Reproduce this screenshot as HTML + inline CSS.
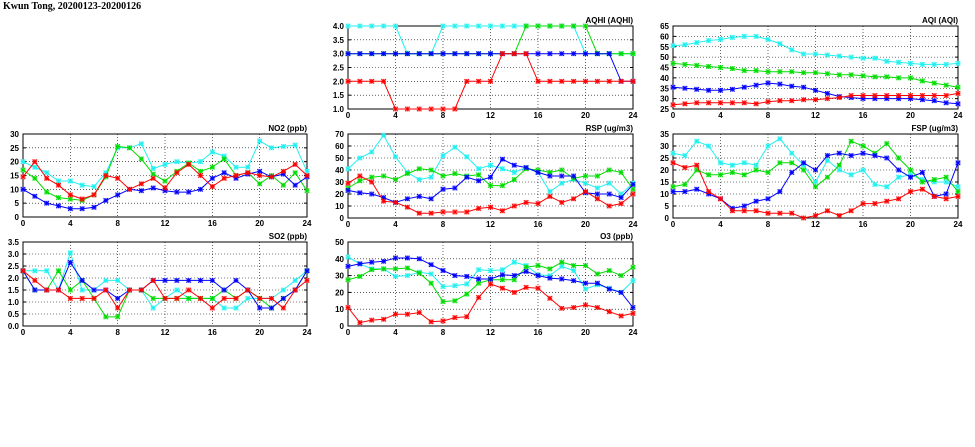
<!DOCTYPE html>
<html><head><meta charset="utf-8"><style>
html,body{margin:0;padding:0;background:#fff;width:975px;height:447px;overflow:hidden}
svg{display:block}
text{font-family:"Liberation Sans",sans-serif;font-weight:bold;font-size:8px;fill:#000}
</style></head><body>
<svg id="s" width="975" height="447" xmlns="http://www.w3.org/2000/svg">
<text x="3" y="9" style="font-family:'Liberation Serif',serif;font-size:10px">Kwun Tong, 20200123-20200126</text>
</svg>
<script>
const S=document.getElementById('s');const NS='http://www.w3.org/2000/svg';
function el(t,a,txt){const e=document.createElementNS(NS,t);for(const k in a)e.setAttribute(k,a[k]);if(txt!=null)e.textContent=txt;S.appendChild(e);return e;}
const C={c:'#20f0f0',g:'#00dd00',b:'#0000ff',r:'#ff0000'};
function panel(p){
 const {x0,x1,y0,y1,min,max,step,dec,title,d}=p;
 const X=h=>x0+(x1-x0)*h/24, Y=v=>y1-(y1-y0)*(v-min)/(max-min);
 for(let v=min;v<=max+1e-9;v+=step){const y=Y(v);
  if(v>min+1e-9&&v<max-1e-9)el('line',{x1:x0,x2:x1,y1:y,y2:y,stroke:'#000','stroke-width':0.6,'stroke-dasharray':'1,2'});
  el('line',{x1:x0,x2:x0+3,y1:y,y2:y,stroke:'#000'});el('line',{x1:x1-3,x2:x1,y1:y,y2:y,stroke:'#000'});
  el('text',{x:x0-4,y:y+3,'text-anchor':'end'},v.toFixed(dec));}
 for(let h=0;h<=24;h+=4){const x=X(h);
  if(h>0&&h<24)el('line',{x1:x,x2:x,y1:y0,y2:y1,stroke:'#000','stroke-width':0.6,'stroke-dasharray':'1,2'});
  el('text',{x:x,y:y1+9,'text-anchor':'middle'},h);}
 el('rect',{x:x0,y:y0,width:x1-x0,height:y1-y0,fill:'none',stroke:'#000','stroke-width':1});
 el('text',{x:x1,y:y0-3,'text-anchor':'end'},title);
 for(const k of ['c','g','b','r']){const a=d[k];const pts=a.map((v,i)=>X(i).toFixed(1)+','+Y(v).toFixed(1)).join(' ');
  el('polyline',{points:pts,fill:'none',stroke:C[k],'stroke-width':1});
  a.forEach((v,i)=>{const x=X(i),y=Y(v),r=2.2;
   el('path',{d:`M${x-r},${y-r}L${x+r},${y+r}M${x-r},${y+r}L${x+r},${y-r}M${x-r},${y}L${x+r},${y}M${x},${y-r}L${x},${y+r}`,stroke:C[k],'stroke-width':1});
   el('rect',{x:x-r,y:y-r,width:2*r,height:2*r,fill:'none',stroke:C[k],'stroke-width':0.5,opacity:0.4});});}
}
panel({x0:348,x1:633,y0:26,y1:109,min:1,max:4,step:0.5,dec:1,title:'AQHI (AQHI)',d:{
c:[4,4,4,4,4,3,3,3,4,4,4,4,4,4,4,4,4,4,4,4,3,3,3,3,3],
g:[3,3,3,3,3,3,3,3,3,3,3,3,3,3,3,4,4,4,4,4,4,3,3,3,3],
b:[3,3,3,3,3,3,3,3,3,3,3,3,3,3,3,3,3,3,3,3,3,3,3,2,2],
r:[2,2,2,2,1,1,1,1,1,1,2,2,2,3,3,3,2,2,2,2,2,2,2,2,2]}});
panel({x0:673,x1:958,y0:26,y1:109,min:25,max:65,step:5,dec:0,title:'AQI (AQI)',d:{
c:[55.5,56,57,58,58.5,59.5,60,60,58.5,56.5,53.5,51.5,51.5,51,50.5,50,49.5,49.5,48,47.5,47,46.5,46.5,46.5,47],
g:[47,46.5,46,45.5,45,44.5,43.5,43.5,43,43,43,42.5,42.5,42,41.5,41.5,41,40.5,40.5,40,40,38.5,37.5,36.5,35.5],
b:[35.5,35,34.5,34,34,34.5,35.5,36.5,37.5,37,36,35.5,34,32.5,31,30.5,30,30,30,30,30,29.5,29,28,27.5],
r:[27,27.5,28,28,28,28,28,27.5,28.5,29,29,29.5,29.5,30,30.5,31.5,31.5,31.5,31.5,31.5,31.5,31.5,31.5,31.5,32.5]}});
panel({x0:23,x1:307,y0:134,y1:217,min:0,max:30,step:5,dec:0,title:'NO2 (ppb)',d:{
c:[20,18,16,13,13,11.5,11,16,25,25,26.5,17.5,19,20,19.5,20,23.5,22,18,18,27.5,25,25.5,26,16.5],
g:[17,14,9,7,6.5,6,8,14.5,25.5,25,21,15.5,13,16.5,19.5,16.5,18,21,15,16,12,15,11.5,16,9.5],
b:[10,7.5,5,4,3,3,3.5,6,8,10,9.5,10.5,9.5,9,9,10,14,16,14,15.5,16.5,14.5,15.5,11.5,14.5],
r:[14.5,20,14,11.5,8,6.5,8,15,14,10,12,14,10.5,16,19,15,11,14,15,16,15,14.5,16.5,19,15]}});
panel({x0:348,x1:633,y0:134,y1:218,min:0,max:70,step:10,dec:0,title:'RSP (ug/m3)',d:{
c:[41,50,55,69,51,38,32,34,52,59,51,41,44,41,38,42,38,22,29,32,29,25,29,20,29],
g:[25,31,34,35,32,37,41,40,35,37,35,36,27,27,32,41,40,38,40,33,35,35,40,38,24],
b:[23,21,20,17,13,16,18,16,24,25,34,31,34,49,44,42,38,35,35,35,21,20,20,17,28],
r:[29,35,30,14,13,9,4,4,5,5,5,8,9,6,10,13,12,18,13,16,22,16,10,12,20]}});
panel({x0:673,x1:958,y0:134,y1:218,min:0,max:35,step:5,dec:0,title:'FSP (ug/m3)',d:{
c:[27,26,32,30,23,22,23,22,30,33,27,22,15,24,20,18,20,14,13,17,18,16,15,15,13],
g:[13,14,20,18,18,19,18,20,19,23,23,20,13,17,22,32,30,27,31,25,20,15,16,17,11],
b:[11,11,12,10,8,4,5,7,8,11,19,23,20,26,27,26,27,26,25,20,17,19,9,10,23],
r:[23,21,22,11,8,3,3,3,2,2,2,0,1,3,1,3,6,6,7,8,11,12,9,8,9]}});
panel({x0:23,x1:307,y0:242,y1:326,min:0,max:3.5,step:0.5,dec:1,title:'SO2 (ppb)',d:{
c:[2.3,2.3,2.3,1.5,3.05,1.5,1.5,1.9,1.9,1.5,1.5,0.75,1.15,1.5,1.15,1.15,1.15,0.75,0.75,1.15,1.15,1.15,1.5,1.9,2.3],
g:[2.3,1.5,1.5,2.3,1.5,1.9,1.15,0.38,0.38,1.5,1.5,1.15,1.15,1.15,1.15,1.15,1.15,1.5,1.15,1.5,1.15,0.75,1.15,1.5,2.3],
b:[2.3,1.5,1.5,1.5,2.65,1.9,1.5,1.5,1.15,1.5,1.5,1.9,1.9,1.9,1.9,1.9,1.9,1.5,1.9,1.5,0.75,0.75,1.15,1.5,2.3],
r:[2.3,1.9,1.5,1.5,1.15,1.15,1.15,1.5,0.75,1.5,1.5,1.9,1.15,1.15,1.5,1.15,0.75,1.15,1.15,1.5,1.15,1.15,0.75,1.5,1.9]}});
panel({x0:348,x1:633,y0:242,y1:326,min:0,max:50,step:10,dec:0,title:'O3 (ppb)',d:{
c:[41,37,34,34,29.5,30,32,31,23.5,24,25,33.5,33,33.5,38,36,30.5,30,35.5,33,22,24.5,22.5,20,27],
g:[27.5,29.5,33.5,34,34,34.5,31.5,25.5,14.5,15,19,25.5,27.5,27.5,27.5,35,36,34,38,36,36,31,33,30,35],
b:[35.5,37,38,38.5,40.5,40.5,40,36.5,33,30,29.5,28,28,30.5,30,32.5,30,28.5,28,27,25.5,25.5,22,20,11],
r:[11,2,3.5,4,7,7,8,2.5,3,5,5.5,17,25,22.5,20,23,22.5,16.5,10.5,11,12.5,11,8.5,6,7.5]}});
</script>
</body></html>
